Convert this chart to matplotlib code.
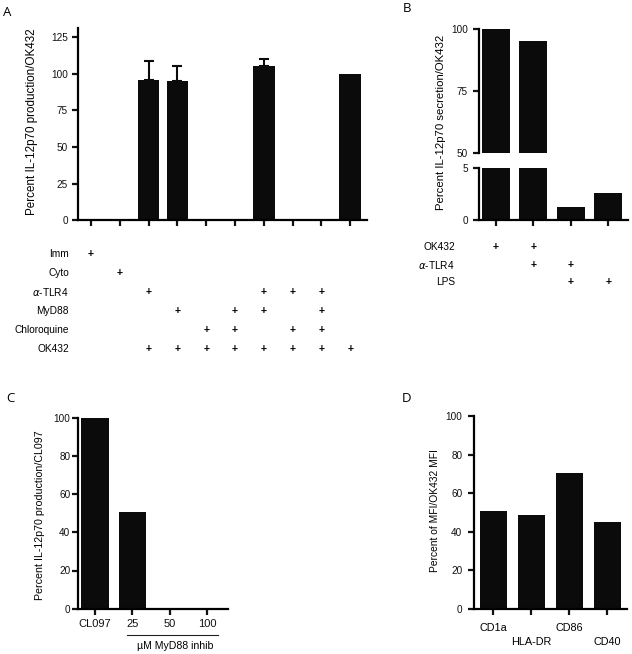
import matplotlib
matplotlib.use("Agg")
import matplotlib.pyplot as plt
from matplotlib.transforms import blended_transform_factory
from matplotlib.lines import Line2D

plt.rcParams['font.family'] = ['Liberation Sans', 'DejaVu Sans']
plt.rcParams['font.size'] = 7.2

W, H = 632, 654
BAR = '#0b0b0b'

# ---- data ----
a_vals = [0, 0, 95.5, 95, 0, 0, 105.5, 0, 0, 100]
a_err = [0, 0, 13.5, 10.5, 0, 0, 4.5, 0, 0, 0]
a_rows = ['Imm', 'Cyto', r'$\alpha$-TLR4', 'MyD88', 'Chloroquine', 'OK432']
a_plus = [
    [1],
    [2],
    [3, 7, 8, 9],
    [4, 6, 7, 9],
    [5, 6, 8, 9],
    [3, 4, 5, 6, 7, 8, 9, 10],
]

b_vals = [100, 95, 1.2, 2.6]
b_rows = ['OK432', r'$\alpha$-TLR4', 'LPS']
b_plus = [[1, 2], [2, 3], [3, 4]]

c_labels = ['CL097', '25', '50', '100']
c_vals = [100, 50.5, 0, 0]

d_labels = ['CD1a', 'HLA-DR', 'CD86', 'CD40']
d_vals = [50.7, 48.4, 70.2, 44.8]


def fx(px):
    return px / W


def fy(px):
    return 1 - px / H


def style(ax, bottom=True, pad=2):
    for s in ['top', 'right']:
        ax.spines[s].set_visible(False)
    ax.spines['left'].set_linewidth(1.6)
    ax.spines['bottom'].set_linewidth(1.6)
    if not bottom:
        ax.spines['bottom'].set_visible(False)
    ax.tick_params(width=1.6, length=4.5, direction='out', pad=pad, colors='#111',
                   labelsize=7.2)


fig = plt.figure(figsize=(W / 100, H / 100), dpi=100)

# ---- panel A ----
axA = fig.add_axes([fx(77.7), fy(220.3), fx(366.7 - 77.7), (220.3 - 28.3) / H])
xa = range(len(a_vals))
axA.bar(xa, a_vals, width=0.75, color=BAR)
for i, (v, e) in enumerate(zip(a_vals, a_err)):
    if e > 0:
        axA.errorbar(i, v, yerr=[[0], [e]], color=BAR, lw=1.5, capsize=3.6, capthick=1.5)
axA.set_xlim(-0.46, 9.57)
axA.set_ylim(0, 131)
axA.set_yticks([0, 25, 50, 75, 100, 125])
axA.set_xticks(list(xa))
axA.set_xticklabels([])
style(axA, pad=2.5)
fig.text(fx(32.5), fy(121.6), 'Percent IL-12p70 production/OK432', rotation=90,
         ha='center', va='center', fontsize=8.4)
trA = blended_transform_factory(axA.transData, fig.transFigure)
row_y = [254, 273.3, 292.3, 311, 330, 349.3]
for name, cols, y in zip(a_rows, a_plus, row_y):
    fig.text(fx(69), fy(y), name, ha='right', va='center', fontsize=7.3)
    for c in cols:
        axA.text(c - 1, fy(y), '+', transform=trA, ha='center', va='center',
                 fontweight='bold', fontsize=7.5)
fig.text(fx(3), fy(12.5), 'A', fontsize=9.5, family='Open Sans', va='center', ha='left')

# ---- panel B (broken axis) ----
bl, br = 479, 628.3
axBt = fig.add_axes([fx(bl), fy(153.3), fx(br - bl), (153.3 - 29) / H])
axBb = fig.add_axes([fx(bl), fy(220), fx(br - bl), (220 - 167.7) / H])
xb = range(len(b_vals))
for ax in (axBt, axBb):
    ax.bar(xb, b_vals, width=0.74, color=BAR)
    ax.set_xlim(-0.445, 3.536)
axBt.set_ylim(50, 100)
axBt.set_yticks([50, 75, 100])
axBt.set_xticks([])
style(axBt, bottom=False, pad=3.5)
axBb.set_ylim(0, 5)
axBb.set_yticks([0, 5])
axBb.set_xticks(list(xb))
axBb.set_xticklabels([])
style(axBb, pad=3.5)
fig.text(fx(440.7), fy(122.8), 'Percent IL-12p70 secretion/OK432', rotation=90,
         ha='center', va='center', fontsize=8.2)
trB = blended_transform_factory(axBb.transData, fig.transFigure)
rowb_y = [247.3, 265, 282.3]
for name, cols, y in zip(b_rows, b_plus, rowb_y):
    fig.text(fx(455), fy(y), name, ha='right', va='center', fontsize=7.3)
    for c in cols:
        axBb.text(c - 1, fy(y), '+', transform=trB, ha='center', va='center',
                  fontweight='bold', fontsize=7.5)
fig.text(fx(402.7), fy(8.7), 'B', fontsize=9.5, family='Open Sans', va='center', ha='left')

# ---- panel C ----
axC = fig.add_axes([fx(78), fy(608.7), fx(228.3 - 78), (608.7 - 417.7) / H])
xc = range(len(c_vals))
axC.bar(xc, c_vals, width=0.73, color=BAR)
axC.set_xlim(-0.453, 3.555)
axC.set_ylim(0, 100)
axC.set_yticks([0, 20, 40, 60, 80, 100])
axC.set_xticks(list(xc))
axC.set_xticklabels(c_labels)
style(axC, pad=1)
axC.tick_params(axis='x', pad=3, labelsize=8)
trC = blended_transform_factory(axC.transData, fig.transFigure)
axC.add_line(Line2D([0.845, 3.29], [fy(635), fy(635)], transform=trC, color='#222',
                    lw=0.8, clip_on=False))
axC.text(2.15, fy(646), 'µM MyD88 inhib', transform=trC, ha='center', va='center',
         fontsize=7.6)
fig.text(fx(40.3), fy(515), 'Percent IL-12p70 production/CL097', rotation=90,
         ha='center', va='center', fontsize=7.7)
fig.text(fx(6.7), fy(398), 'C', fontsize=9.5, family='Open Sans', va='center', ha='left')

# ---- panel D ----
axD = fig.add_axes([fx(474.3), fy(608.7), fx(626.7 - 474.3), (608.7 - 416) / H])
xd = range(len(d_vals))
axD.bar(xd, d_vals, width=0.70, color=BAR)
axD.set_xlim(-0.5, 3.51)
axD.set_ylim(0, 100)
axD.set_yticks([0, 20, 40, 60, 80, 100])
axD.set_xticks(list(xd))
axD.set_xticklabels([])
style(axD, pad=4)
trD = blended_transform_factory(axD.transData, fig.transFigure)
for i, lab in enumerate(d_labels):
    y = 628.3 if i % 2 == 0 else 641.7
    axD.text(i, fy(y), lab, transform=trD, ha='center', va='center', fontsize=7.8)
fig.text(fx(434.7), fy(510.7), 'Percent of MFI/OK432 MFI', rotation=90,
         ha='center', va='center', fontsize=7.4)
fig.text(fx(401.7), fy(398), 'D', fontsize=9.5, family='Open Sans', va='center', ha='left')

fig.savefig('out.png', dpi=100, facecolor='white')
